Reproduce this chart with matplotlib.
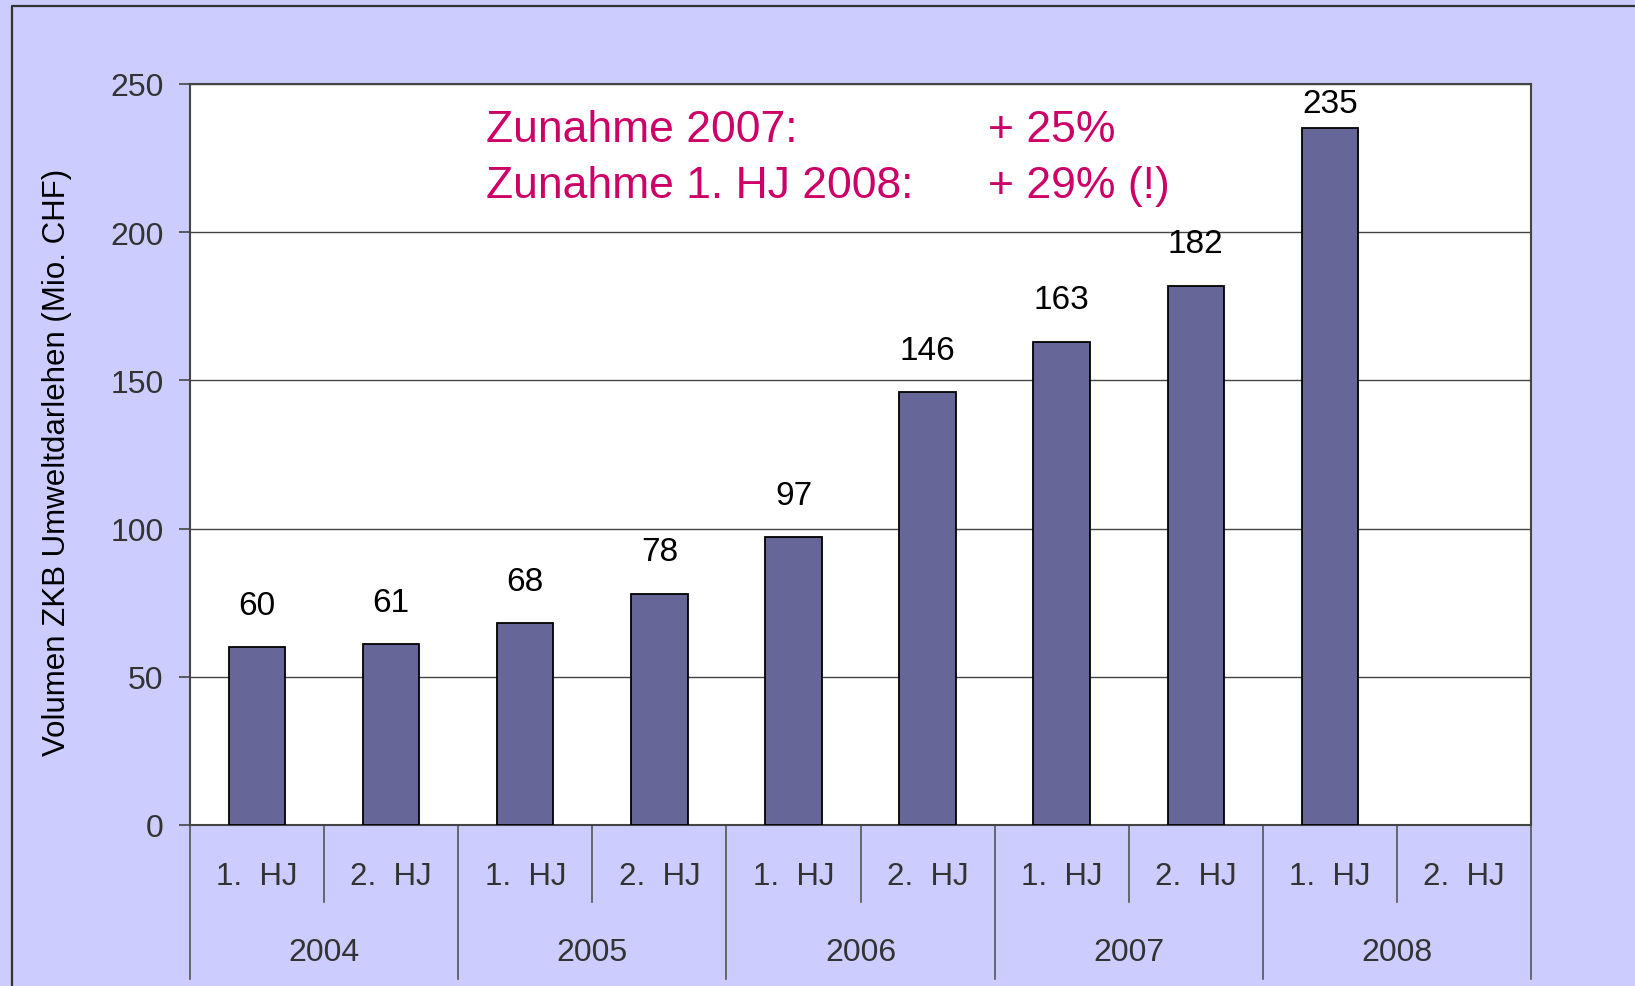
# -*- coding: utf-8 -*-
"""ZKB Umweltdarlehen — Volumen je Halbjahr 2004-2008, Excel-style bar chart."""
import matplotlib; matplotlib.use("Agg")
import matplotlib.pyplot as plt
from matplotlib.lines import Line2D
import numpy as np

YEARS = ["2004", "2005", "2006", "2007", "2008"]
HALVES = ["1. HJ", "2. HJ"]
# Mio. CHF per half-year; 2. HJ 2008 not yet reported
VOLUME = [60, 61, 68, 78, 97, 146, 163, 182, 235, np.nan]
YTICKS = [0, 50, 100, 150, 200, 250]
NOTE_LEFT = ["Zunahme 2007:", "Zunahme 1. HJ 2008:"]
NOTE_RIGHT = ["+ 25%", "+ 29% (!)"]

BG = "#CCCCFF"
BAR = "#666699"
INK = "#333333"
PINK = "#CC0066"

plt.rcParams["font.family"] = ["Liberation Sans", "DejaVu Sans"]


def main():
    W, H = 1635, 987
    fig = plt.figure(figsize=(W / 100, H / 100), dpi=100)
    fig.patch.set_facecolor(BG)

    # outer chart-area frame (only left/top edge visible in the crop)
    fx, fy = 12 / W, 1 - 7 / H
    fig.add_artist(Line2D([fx, fx, 1.0], [0.0, fy, fy], transform=fig.transFigure,
                          color=INK, lw=1.6))

    ax = fig.add_axes([190 / W, 1 - 826 / H, 1341 / W, 741 / H])
    ax.set_facecolor("white")
    n = len(VOLUME)
    x = np.arange(n) + 0.5
    ax.bar(x, VOLUME, width=0.42, color=BAR, edgecolor="black", lw=1.3, zorder=3)
    ax.set_xlim(0, n)
    ax.set_ylim(YTICKS[0], YTICKS[-1])
    ax.set_yticks(YTICKS)
    ax.set_xticks([])
    ax.yaxis.grid(True, color="#444444", lw=1.0, zorder=0)
    for s in ax.spines.values():
        s.set_color("#444444"); s.set_linewidth(1.5)
    ax.tick_params(axis="y", direction="out", length=8, width=1.2, color="#444444",
                   labelsize=23, labelcolor=INK, pad=11)

    # value labels above bars, kept inside the plot area like Excel does
    for xi, v in zip(x, VOLUME):
        if np.isnan(v):
            continue
        ax.text(xi, min(v + 14.2, 243.5), f"{v:.0f}", ha="center", va="center",
                fontsize=24, color="black", zorder=4)

    # two-level category axis drawn by hand
    tr = ax.get_xaxis_transform()
    for b in range(n + 1):
        y0 = -0.208 if b % 2 == 0 else -0.104
        ax.add_line(Line2D([b, b], [0, y0], transform=tr, color="#555555", lw=1.2,
                           clip_on=False))
    for i in range(n):
        ax.text(i + 0.5, -0.069, HALVES[i % 2].replace(" ", "  "), transform=tr,
                ha="center", va="center", fontsize=22.5, color=INK)
    for k, yr in enumerate(YEARS):
        ax.text(2 * k + 1, -0.171, yr, transform=tr, ha="center", va="center",
                fontsize=23, color=INK)

    fig.text(57 / W, 1 - 462 / H, "Volumen ZKB Umweltdarlehen (Mio. CHF)", rotation=90,
             ha="center", va="center", fontsize=22.5, color="black")

    # growth note in the plot
    for row, (l, r) in enumerate(zip(NOTE_LEFT, NOTE_RIGHT)):
        yb = 1 - (142 + 56 * row) / H
        fig.text(486 / W, yb, l, fontsize=32, color=PINK, va="baseline")
        fig.text(988 / W, yb, r, fontsize=32, color=PINK, va="baseline")

    fig.savefig("out.png", dpi=100, facecolor=BG)


if __name__ == "__main__":
    main()
